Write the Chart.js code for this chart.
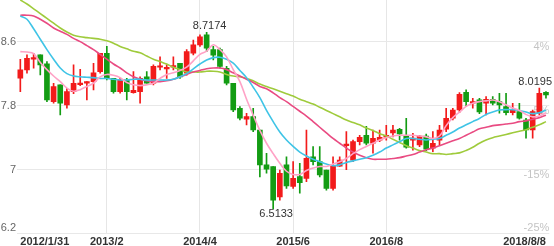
<!DOCTYPE html>
<html>
<head>
<meta charset="utf-8">
<script src="https://cdn.jsdelivr.net/npm/chart.js@4.4.1/dist/chart.umd.min.js"></script>
<style>
html, body { margin: 0; padding: 0; background: #fff; }
#wrap { width: 554px; height: 246px; position: relative; }
</style>
</head>
<body>
<div id="wrap"><canvas id="kline"></canvas></div>
<script>
// monthly candles, 2012/1 .. 2018/8
const openP = [8.142, 8.246, 8.38, 8.434, 8.321, 7.85, 8.059, 7.809, 7.975, 8.063,
  8.08, 8.10, 8.225, 8.455, 8.14, 7.975, 8.12, 7.963, 7.975, 8.16,
  8.08, 8.28, 8.26, 8.28, 8.33, 8.205, 8.455, 8.56, 8.684, 8.50,
  8.50, 8.267, 8.08, 7.767, 7.63, 7.663, 7.496, 7.06, 7.04, 6.66,
  7.06, 6.79, 6.913, 6.892, 7.16, 7.10, 6.995, 6.767, 7.045, 7.30,
  7.12, 7.35, 7.43, 7.33, 7.37, 7.405, 7.46, 7.505, 7.42, 7.37,
  7.309, 7.42, 7.267, 7.37, 7.505, 7.642, 7.746, 7.967, 7.83, 7.871,
  7.83, 7.88, 7.85, 7.787, 7.713, 7.725, 7.621, 7.496, 7.705, 7.967];
const closeP = [8.246, 8.392, 8.40, 8.309, 7.871, 8.038, 7.83, 7.975, 8.08, 8.08,
  8.10, 8.21, 8.455, 8.14, 7.975, 8.12, 7.975, 7.99, 8.14, 8.08,
  8.29, 8.295, 8.275, 8.30, 8.16, 8.475, 8.56, 8.66, 8.517, 8.43,
  8.29, 8.08, 7.746, 7.642, 7.663, 7.496, 7.059, 7.005, 6.62, 6.955,
  6.796, 6.892, 6.838, 7.142, 7.10, 6.934, 6.767, 7.045, 7.12, 7.32,
  7.35, 7.405, 7.33, 7.39, 7.405, 7.43, 7.496, 7.446, 7.28, 7.395,
  7.42, 7.255, 7.33, 7.496, 7.642, 7.746, 7.942, 7.85, 7.85, 7.72,
  7.88, 7.83, 7.81, 7.713, 7.746, 7.642, 7.496, 7.725, 7.955, 7.934];
const highP = [8.38, 8.434, 8.455, 8.434, 8.35, 8.08, 8.059, 8.017, 8.31, 8.255,
  8.10, 8.33, 8.455, 8.54, 8.14, 8.14, 8.14, 8.225, 8.16, 8.225,
  8.31, 8.41, 8.31, 8.41, 8.33, 8.50, 8.62, 8.685, 8.7174, 8.54,
  8.52, 8.29, 8.08, 7.787, 7.705, 7.767, 7.496, 7.205, 7.04, 6.995,
  7.16, 7.10, 7.08, 7.496, 7.287, 7.287, 6.995, 7.16, 7.16, 7.475,
  7.37, 7.43, 7.54, 7.496, 7.496, 7.555, 7.555, 7.517, 7.642, 7.455,
  7.43, 7.446, 7.475, 7.555, 7.767, 7.767, 7.963, 7.996, 7.892, 7.892,
  7.913, 7.913, 7.955, 7.955, 7.83, 7.83, 7.642, 7.746, 8.0195, 7.975];
const lowP = [7.975, 8.205, 8.267, 8.184, 7.85, 7.83, 7.684, 7.767, 7.95, 8.05,
  7.87, 7.995, 8.205, 8.12, 7.955, 7.955, 7.87, 7.955, 7.83, 8.08,
  8.06, 8.246, 8.14, 8.246, 8.14, 8.18, 8.434, 8.54, 8.475, 8.37,
  8.267, 8.06, 7.725, 7.62, 7.56, 7.475, 6.91, 6.955, 6.5133, 6.62,
  6.767, 6.767, 6.705, 6.85, 7.059, 6.91, 6.745, 6.745, 7.04, 7.00,
  7.10, 7.31, 7.31, 7.205, 7.35, 7.37, 7.41, 7.37, 7.267, 7.245,
  7.287, 7.237, 7.225, 7.31, 7.475, 7.62, 7.713, 7.79, 7.767, 7.70,
  7.683, 7.81, 7.705, 7.684, 7.684, 7.63, 7.392, 7.392, 7.684, 7.892];

const ma5 = [8.475, 8.47, 8.45, 8.34, 8.25, 8.17, 8.10, 8.02, 7.98, 8.00,
  8.04, 8.08, 8.16, 8.19, 8.18, 8.15, 8.09, 8.06, 8.05, 8.06,
  8.08, 8.14, 8.19, 8.21, 8.24, 8.28, 8.36, 8.44, 8.48, 8.56,
  8.50, 8.41, 8.25, 8.10, 7.88, 7.68, 7.49, 7.33, 7.20, 7.08,
  6.98, 6.94, 6.94, 6.99, 7.02, 7.04, 7.04, 7.07, 7.10, 7.14,
  7.20, 7.25, 7.29, 7.33, 7.37, 7.40, 7.42, 7.43, 7.43, 7.43,
  7.42, 7.41, 7.39, 7.42, 7.55, 7.65, 7.72, 7.79, 7.83, 7.85,
  7.86, 7.87, 7.85, 7.81, 7.77, 7.74, 7.69, 7.66, 7.67, 7.71];
const ma10 = [8.92, 8.88, 8.76, 8.63, 8.50, 8.38, 8.27, 8.20, 8.17, 8.16,
  8.155, 8.15, 8.14, 8.14, 8.13, 8.12, 8.12, 8.13, 8.13, 8.12,
  8.12, 8.12, 8.12, 8.13, 8.16, 8.20, 8.26, 8.32, 8.37, 8.40,
  8.405, 8.38, 8.33, 8.24, 8.15, 8.03, 7.90, 7.74, 7.60, 7.47,
  7.37, 7.29, 7.22, 7.17, 7.13, 7.10, 7.07, 7.05, 7.06, 7.09,
  7.11, 7.13, 7.15, 7.18, 7.22, 7.27, 7.31, 7.35, 7.39, 7.39,
  7.38, 7.37, 7.38, 7.39, 7.43, 7.47, 7.52, 7.56, 7.60, 7.64,
  7.69, 7.72, 7.745, 7.75, 7.75, 7.74, 7.72, 7.70, 7.71, 7.745];
const ma20 = [8.93, 8.93, 8.92, 8.88, 8.83, 8.77, 8.73, 8.69, 8.64, 8.60,
  8.55, 8.50, 8.44, 8.38, 8.32, 8.27, 8.21, 8.16, 8.13, 8.11,
  8.10, 8.10, 8.11, 8.13, 8.16, 8.19, 8.22, 8.24, 8.26, 8.27,
  8.27, 8.25, 8.21, 8.17, 8.13, 8.09, 8.04, 8.01, 7.96, 7.90,
  7.85, 7.79, 7.73, 7.67, 7.60, 7.53, 7.46, 7.39, 7.33, 7.27,
  7.22, 7.18, 7.15, 7.13, 7.13, 7.13, 7.14, 7.15, 7.17, 7.19,
  7.22, 7.25, 7.27, 7.30, 7.33, 7.36, 7.39, 7.43, 7.47, 7.51,
  7.53, 7.55, 7.56, 7.57, 7.58, 7.60, 7.61, 7.63, 7.65, 7.68];
const ma60 = [9.12, 9.07, 9.01, 8.95, 8.89, 8.83, 8.77, 8.72, 8.68, 8.66,
  8.65, 8.64, 8.63, 8.61, 8.58, 8.54, 8.51, 8.48, 8.46, 8.42,
  8.38, 8.35, 8.32, 8.28, 8.25, 8.22, 8.22, 8.22, 8.23, 8.23,
  8.22, 8.19, 8.17, 8.16, 8.14, 8.11, 8.07, 8.04, 8.01, 7.98,
  7.95, 7.92, 7.88, 7.85, 7.82, 7.78, 7.74, 7.70, 7.66, 7.62,
  7.59, 7.56, 7.52, 7.49, 7.45, 7.42, 7.38, 7.34, 7.30, 7.27,
  7.24, 7.22, 7.20, 7.20, 7.19, 7.20, 7.21, 7.24, 7.28, 7.33,
  7.37, 7.40, 7.42, 7.44, 7.46, 7.48, 7.50, 7.53, 7.56, 7.60];

const tickIdx = [0, 13, 27, 41, 55, 79];
const tickText = ['2012/1/31', '2013/2', '2014/4', '2015/6', '2016/8', '2018/8/8'];
const priceTicks = [6.2, 7, 7.8, 8.6];
const pctTicks = ['-25%', '-15%', '-5%', '4%'];
const markIdx = [28, 38, 78];
const markSide = ['high', 'low', 'high'];

const months = [];
for (let k = 0; k < openP.length; k++) months.push((2012 + Math.floor(k / 12)) + '/' + (k % 12 + 1));

const FONT = '"Liberation Sans", Arial, sans-serif';
const UP = '#f21b1b', DOWN = '#139c13';
const candleColors = closeP.map((c, i) => c >= openP[i] ? UP : DOWN);
const gridIdx = tickIdx.slice(1, -1);
const Y_MIN = 6.196, Y_MAX = 9.12;

const fixW = w => axis => { axis.width = w; axis.paddingTop = 0; axis.paddingBottom = 0; };

const markPlugin = {
    id: 'marks',
    afterDatasetsDraw(chart) {
        const { ctx, scales: { x, y } } = chart;
        ctx.save();
        ctx.font = '11px ' + FONT;
        ctx.fillStyle = '#333';
        ctx.textAlign = 'center';
        markIdx.forEach((i, k) => {
            const hi = markSide[k] === 'high';
            const v = hi ? highP[i] : lowP[i];
            const txt = v.toFixed(4);
            const w = ctx.measureText(txt).width;
            let px = x.getPixelForValue(i) + 3;
            px = Math.min(px, chart.width - w / 2 - 2);
            const py = y.getPixelForValue(v);
            ctx.textBaseline = hi ? 'alphabetic' : 'top';
            ctx.fillText(txt, px, hi ? py - 3 : py);
        });
        ctx.restore();
    }
};

const line = (data, color) => ({
    type: 'line', data, borderColor: color, borderWidth: 1.6,
    pointRadius: 0, tension: 0.35, fill: false, order: 0
});

new Chart(document.getElementById('kline'), {
    type: 'bar',
    data: {
        labels: months,
        datasets: [
            line(ma5, '#ffa2c6'),
            line(ma10, '#3fc4e6'),
            line(ma20, '#e94b82'),
            line(ma60, '#9fcb3c'),
            {
                data: lowP.map((l, i) => [l, highP[i]]),
                backgroundColor: candleColors, barThickness: 1,
                grouped: false, order: 2
            },
            {
                data: openP.map((o, i) => [o, closeP[i]]),
                backgroundColor: candleColors, barThickness: 5, minBarLength: 1.5,
                grouped: false, order: 1
            }
        ]
    },
    options: {
        responsive: true,
        maintainAspectRatio: false,
        animation: false,
        layout: { padding: 0 },
        plugins: { legend: { display: false }, tooltip: { enabled: false } },
        scales: {
            x: {
                offset: true,
                grid: {
                    offset: false, drawTicks: false,
                    color: c => gridIdx.includes(c.index) ? '#e6e6e6' : 'rgba(0,0,0,0)'
                },
                border: { display: false },
                ticks: {
                    autoSkip: false, maxRotation: 0, minRotation: 0, align: 'inner', padding: 1,
                    color: '#333', font: { size: 11, weight: 'bold', family: FONT },
                    callback: (v, i) => {
                        const k = tickIdx.indexOf(i);
                        return k < 0 ? '' : tickText[k];
                    }
                },
                afterFit: a => { a.height = 12; a.paddingLeft = 0; a.paddingRight = 0; }
            },
            y: {
                position: 'left', min: Y_MIN, max: Y_MAX,
                grid: { color: '#e8e8e8', drawTicks: false },
                border: { display: false },
                ticks: { display: false },
                afterBuildTicks: a => { a.ticks = priceTicks.map(v => ({ value: v })); },
                afterFit: fixW(0)
            },
            yl: {
                position: 'left', min: Y_MIN, max: Y_MAX,
                grid: { display: false, drawTicks: false },
                border: { display: false },
                ticks: {
                    padding: 1, color: '#666', font: { size: 11, family: FONT },
                    callback: (v, i) => String(priceTicks[i])
                },
                afterBuildTicks: a => { a.ticks = priceTicks.map((v, k) => ({ value: k === 0 ? v + 0.07 : v })); },
                afterFit: fixW(17)
            },
            yr: {
                position: 'right', min: Y_MIN, max: Y_MAX,
                grid: { display: false, drawTicks: false },
                border: { display: false },
                ticks: {
                    mirror: true, padding: 0, color: '#c4c4c4', font: { size: 11, family: FONT },
                    callback: (v, i) => pctTicks[i]
                },
                afterBuildTicks: a => { a.ticks = priceTicks.map((v, k) => ({ value: k === 0 ? v + 0.07 : v - 0.0625 })); },
                afterFit: fixW(4.7)
            }
        }
    },
    plugins: [markPlugin]
});
</script>
</body>
</html>
